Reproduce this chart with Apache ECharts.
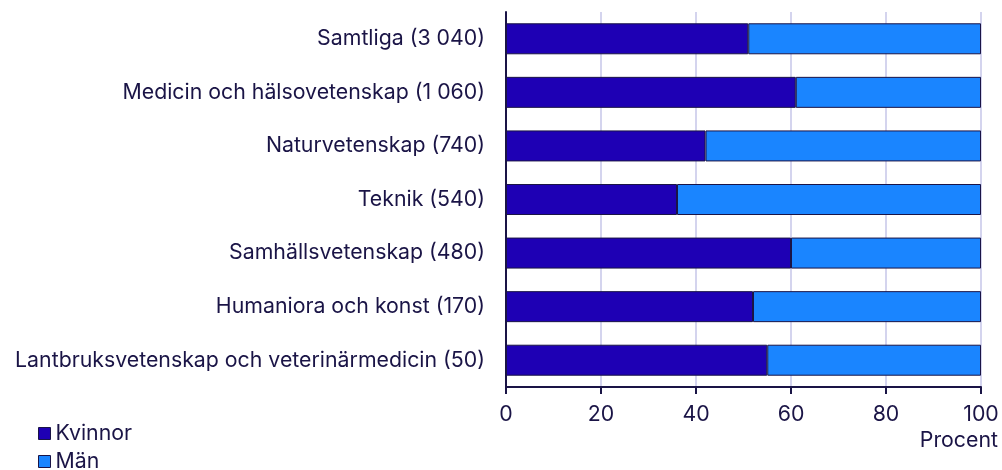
<!DOCTYPE html>
<html>
<head>
<meta charset="utf-8">
<script src="https://cdn.jsdelivr.net/npm/echarts@6/dist/echarts.min.js"></script>
<style>
  html, body { margin: 0; padding: 0; background: #fff; }
  #chart { width: 1002px; height: 470px; }
</style>
</head>
<body>
<div id="chart"></div>
<script>
const categories = [
  'Samtliga (3 040)',
  'Medicin och hälsovetenskap (1 060)',
  'Naturvetenskap (740)',
  'Teknik (540)',
  'Samhällsvetenskap (480)',
  'Humaniora och konst (170)',
  'Lantbruksvetenskap och veterinärmedicin (50)'
];
const kvinnor = [51, 61, 42, 36, 60, 52, 55];
const man = [49, 39, 58, 64, 40, 48, 45];
const xTicks = [0, 20, 40, 60, 80, 100];

const textColor = '#1a1446';
const fontSize = 21.3;
const chart = echarts.init(document.getElementById('chart'));

// legend rader, en per serie
const legendItem = (name, top) => ({
  orient: 'vertical',
  left: 33,
  top: top,
  itemWidth: 12,
  itemHeight: 12,
  itemGap: 0,
  icon: 'rect',
  itemStyle: { borderColor: textColor, borderWidth: 1 },
  textStyle: { fontFamily: 'Inter', fontSize: fontSize, color: textColor },
  data: [name]
});

const option = {
  backgroundColor: '#fff',
  animation: false,
  textStyle: { fontFamily: 'Inter', color: textColor },
  grid: { left: 506, right: 21, top: 12, bottom: 83 },
  legend: [legendItem('Kvinnor', 418), legendItem('Män', 446)],
  xAxis: {
    type: 'value',
    min: 0,
    max: 100,
    interval: 20,
    name: 'Procent',
    nameLocation: 'end',
    nameGap: 0,
    nameTextStyle: {
      fontFamily: 'Inter', fontSize: fontSize, color: textColor,
      align: 'right', verticalAlign: 'top', padding: [43, -17, 0, 0]
    },
    axisLine: { show: true, lineStyle: { color: textColor, width: 2 } },
    axisTick: { show: true, length: 7, lineStyle: { color: textColor, width: 2 } },
    axisLabel: {
      fontFamily: 'Inter', fontSize: fontSize, color: textColor, margin: 17,
      formatter: v => xTicks.includes(v) ? String(v) : ''
    },
    splitLine: { show: true, lineStyle: { color: '#d4d4ee', width: 2 } }
  },
  yAxis: {
    type: 'category',
    inverse: true,
    data: categories,
    axisLine: { show: true, lineStyle: { color: textColor, width: 2 } },
    axisTick: { show: false },
    axisLabel: { fontFamily: 'Inter', fontSize: fontSize, color: textColor, margin: 21 },
    splitLine: { show: false }
  },
  series: [
    {
      name: 'Kvinnor',
      type: 'bar',
      stack: 'total',
      barWidth: 31,
      data: kvinnor,
      itemStyle: { color: '#1e00b4', borderColor: textColor, borderWidth: 1 }
    },
    {
      name: 'Män',
      type: 'bar',
      stack: 'total',
      barWidth: 31,
      data: man,
      itemStyle: { color: '#1a85ff', borderColor: textColor, borderWidth: 1 }
    }
  ]
};

chart.setOption(option);
</script>
</body>
</html>
